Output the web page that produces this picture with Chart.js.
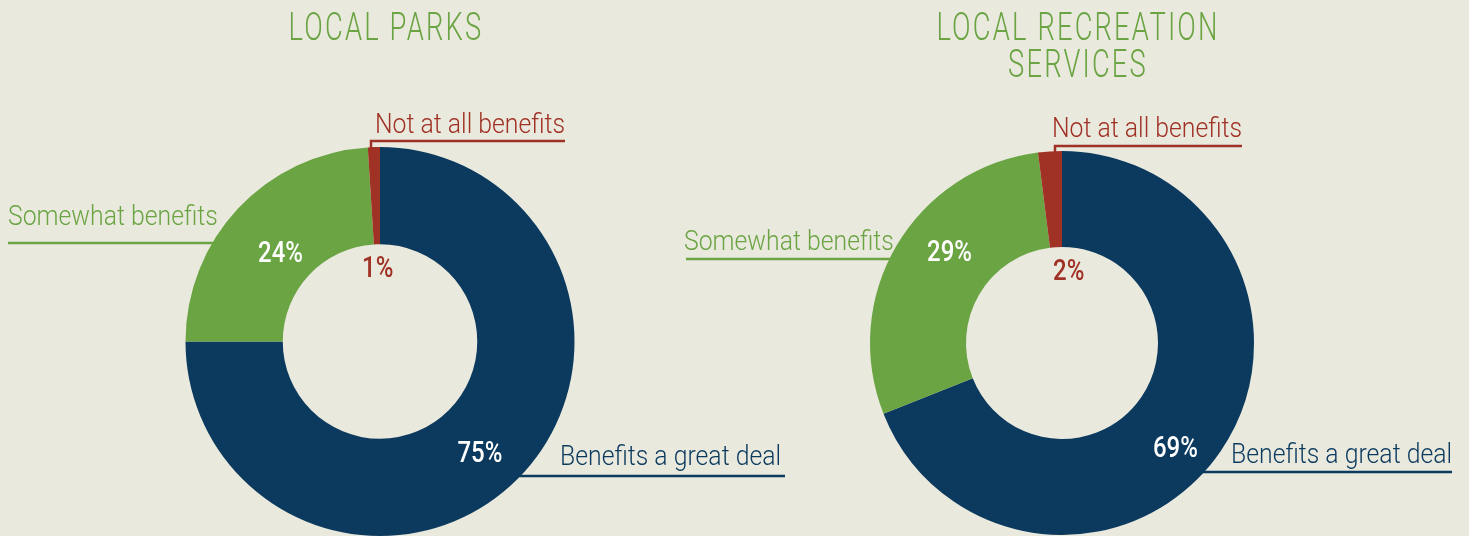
<!DOCTYPE html>
<html>
<head>
<meta charset="utf-8">
<script src="https://cdn.jsdelivr.net/npm/chart.js@4.4.1/dist/chart.umd.min.js"></script>
<style>
  html, body { margin: 0; padding: 0; background: #eae9de; }
  #wrap { position: relative; width: 1469px; height: 536px; overflow: hidden; }
  canvas { position: absolute; left: 0; top: 0; }
</style>
</head>
<body>
<div id="wrap">
  <canvas id="parks" width="1469" height="536"></canvas>
  <canvas id="recreation" width="1469" height="536"></canvas>
</div>
<script>
// data
const categories = ['Benefits a great deal', 'Somewhat benefits', 'Not at all benefits'];
const parksValues = [75, 24, 1];
const recreationValues = [69, 29, 2];
const parksTitle = ['LOCAL PARKS'];
const recreationTitle = ['LOCAL RECREATION', 'SERVICES'];
const sliceColors = ['#0b3a5e', '#6aa443', '#a03125'];

const FONT = 'Roboto, "Liberation Sans", sans-serif';

function drawText(ctx, txt, x, y, o) {
    ctx.save();
    ctx.font = (o.weight || 400) + ' ' + o.size + 'px ' + FONT;
    ctx.fillStyle = o.color;
    ctx.textBaseline = o.baseline || 'alphabetic';
    ctx.letterSpacing = (o.spacing || 0) + 'px';
    const sx = o.sx || 1;
    const w = ctx.measureText(txt).width * sx;
    let left = x;
    if (o.align === 'center') left = x - w / 2;
    if (o.align === 'right') left = x - w;
    ctx.translate(left, y);
    ctx.scale(sx, 1);
    ctx.textAlign = 'left';
    ctx.fillText(txt, 0, 0);
    ctx.restore();
}

// leader lines + labels, drawn around the library's arcs
const calloutPlugin = {
    id: 'callouts',
    beforeDatasetsDraw(chart, args, opts) {
        const ctx = chart.ctx;
        const meta = chart.getDatasetMeta(0);
        opts.items.forEach((c, i) => {
            const arc = meta.data[i];
            const cx = arc.x, cy = arc.y, R = arc.outerRadius;
            ctx.save();
            ctx.strokeStyle = sliceColors[i];
            ctx.lineWidth = 2.5;
            ctx.beginPath();
            if (c.side === 'right') {
                const dx = Math.sqrt(Math.max(0, R * R - (c.lineY - cy) ** 2));
                ctx.moveTo(cx + dx - 4, c.lineY);
                ctx.lineTo(c.lineTo, c.lineY);
            } else if (c.side === 'left') {
                const dx = Math.sqrt(Math.max(0, R * R - (c.lineY - cy) ** 2));
                ctx.moveTo(c.lineFrom, c.lineY);
                ctx.lineTo(cx - dx + 4, c.lineY);
            } else {
                const dy = Math.sqrt(Math.max(0, R * R - (c.lineFrom - cx) ** 2));
                ctx.moveTo(c.lineTo, c.lineY);
                ctx.lineTo(c.lineFrom, c.lineY);
                ctx.lineTo(c.lineFrom, cy - dy + 4);
            }
            ctx.stroke();
            ctx.restore();
        });
    },
    afterDatasetsDraw(chart, args, opts) {
        const ctx = chart.ctx;
        const meta = chart.getDatasetMeta(0);
        const values = chart.data.datasets[0].data;
        opts.title.forEach((t, k) => {
            drawText(ctx, t, opts.titleX, 40 + k * 37,
                { size: 38, weight: 300, color: '#6aa443', align: 'center', sx: 0.72, spacing: 3 });
        });
        opts.items.forEach((c, i) => {
            drawText(ctx, chart.data.labels[i], c.textX, c.textY,
                { size: 28, weight: 300, color: sliceColors[i], sx: 0.885 });
            const arc = meta.data[i];
            const a = (arc.startAngle + arc.endAngle) / 2 + (c.pctShift || 0) * Math.PI / 180;
            const rr = c.inside ? arc.innerRadius * 0.74
                : (c.pctR ? arc.outerRadius * c.pctR : (arc.innerRadius + arc.outerRadius) / 2);
            drawText(ctx, values[i] + '%', arc.x + rr * Math.cos(a), arc.y + rr * Math.sin(a),
                { size: 30, weight: 500, color: c.inside ? sliceColors[i] : '#ffffff',
                  align: 'center', baseline: 'middle', sx: 0.8 });
        });
    }
};

function makeDonut(id, values, title, pad, layout) {
    return new Chart(document.getElementById(id), {
        type: 'doughnut',
        data: {
            labels: categories,
            datasets: [{
                data: values,
                backgroundColor: sliceColors,
                borderWidth: 0
            }]
        },
        options: {
            responsive: false,
            animation: false,
            events: [],
            cutout: '50%',
            layout: { padding: pad },
            plugins: {
                legend: { display: false },
                tooltip: { enabled: false },
                callouts: { title: title, titleX: layout.titleX, items: layout.items }
            }
        },
        plugins: [calloutPlugin]
    });
}

makeDonut('parks', parksValues, parksTitle,
    { left: 0, right: 709, top: 147, bottom: 0 },
    {
        titleX: 386,
        items: [
            { side: 'right', textX: 560, textY: 465, lineY: 476, lineTo: 785, pctShift: 3.5, pctR: 0.775 },
            { side: 'left', textX: 8, textY: 225, lineY: 243, lineFrom: 8, pctShift: -2, pctR: 0.68 },
            { side: 'top', textX: 375, textY: 133, lineY: 141, lineFrom: 371, lineTo: 565, inside: true }
        ]
    });

makeDonut('recreation', recreationValues, recreationTitle,
    { left: 655, right: 0, top: 151, bottom: 1 },
    {
        titleX: 1078,
        items: [
            { side: 'right', textX: 1231, textY: 463, lineY: 472, lineTo: 1452, pctShift: 9, pctR: 0.81 },
            { side: 'left', textX: 684, textY: 250, lineY: 259, lineFrom: 686, pctShift: 8 },
            { side: 'top', textX: 1052, textY: 137, lineY: 146, lineFrom: 1055, lineTo: 1242, inside: true, pctShift: 9 }
        ]
    });
</script>
</body>
</html>
